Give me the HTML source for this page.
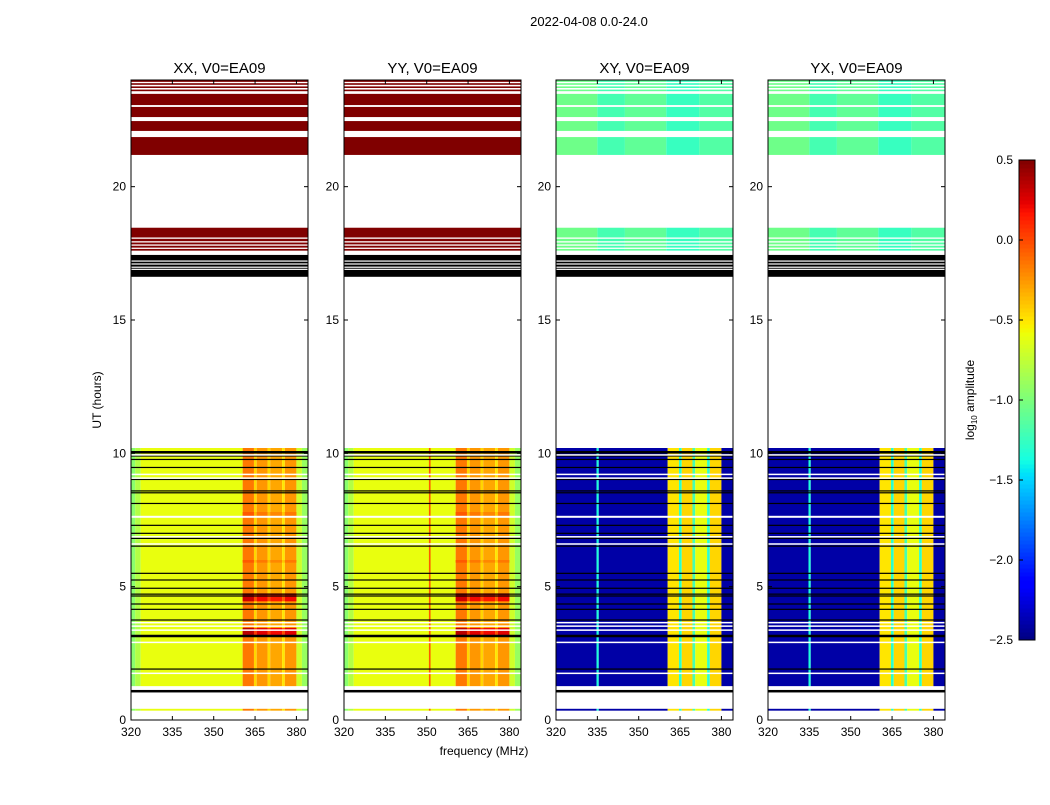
<!DOCTYPE html>
<html><head><meta charset="utf-8"><style>
html,body{margin:0;padding:0;background:#fff;}
svg text{font-family:"Liberation Sans","DejaVu Sans",sans-serif;}
</style></head><body>
<svg id="fig" width="1050" height="800" viewBox="0 0 1050 800" xmlns="http://www.w3.org/2000/svg"></svg>
<script>
// ---- data ----
const panelTitles = ["XX, V0=EA09","YY, V0=EA09","XY, V0=EA09","YX, V0=EA09"];
const panelKind = ["par","par","cross","cross"];
const xTicks = [320,335,350,365,380];
const yTicks = [0,5,10,15,20];
const cbTicks = [0.5,0.0,-0.5,-1.0,-1.5,-2.0,-2.5];
// frequency segments [fromMHz, toMHz, log10 amp]
const parLowProfile = [[320,321.5,-0.95],[321.5,323.5,-0.8],[323.5,360.5,-0.6],[360.5,364.6,-0.15],[364.6,365.6,-0.45],[365.6,369.5,-0.25],[369.5,370.5,-0.45],[370.5,374.8,-0.3],[374.8,375.8,-0.5],[375.8,380,-0.25],[380,382,-0.7],[382,384.5,-0.9]];
const crossLowProfile = [[320,334.7,-2.4],[334.7,335.5,-1.35],[335.5,360.5,-2.4],[360.5,364.6,-0.5],[364.6,365.6,-1.3],[365.6,369.5,-0.45],[369.5,370.5,-1.2],[370.5,374.8,-0.6],[374.8,375.8,-1.3],[375.8,380,-0.45],[380,384.5,-2.4]];
const parHighProfile = [[320,384.5,0.6]];
const crossHighProfile = [[320,335,-1.05],[335,345,-1.2],[345,360,-1.1],[360,372,-1.25],[372,384.5,-1.15]];
const yyExtraLine = [[350.8,351.4,-0.05]];
// time bands with data [fromHour, toHour]
const lowBands = [[0.35,0.42],[1.27,10.2]];
const highBands = [[17.6,18.46],[21.19,21.86],[22.09,22.46],[22.61,22.99],[23.06,23.48],[23.58,23.64],[23.7,23.76],[23.82,23.88],[23.93,23.99]];
// brighter time rows in the parallel hands: [from,to,add]
const brightRows = [[3.15,3.45,0.5],[4.45,4.75,0.45],[5.9,6.0,0.1],[7.6,7.8,0.1]];
// flagged rows: [hour, thickness px]
const blackLines = [[10.04,2.5],[9.9,1.2],[9.77,1.2],[9.47,1.2],[9.02,1.2],[8.59,1.2],[8.52,1.2],[8.12,1.2],[7.3,1.2],[7.0,1.2],[6.81,1.2],[6.52,1.2],[5.5,1.2],[5.25,1.2],[4.94,1.2],[4.72,1.2],[4.65,1.2],[4.35,1.2],[4.15,1.2],[3.75,1.2],[3.15,2.5],[1.91,1.2],[1.08,2.5]];
const whiteLines = [[9.94,1.5],[9.21,1.5],[9.07,1.5],[7.62,2],[6.87,1.5],[6.6,1.5],[3.65,1.5],[3.52,1.5],[3.37,1.5],[2.91,1.5],[1.75,1.5],[18.07,1.3],[17.93,1.3],[17.81,1.3],[17.69,1.3]];
const blackBand = [16.62,17.44];
const blackBandGaps = [[17.21,1.2],[17.1,1.2],[16.98,1.2],[16.9,1.2]];

// ---- layout ----
const svg = document.getElementById('fig');
const NS = 'http://www.w3.org/2000/svg';
const panelLeft = [131,344,556,768];
const PW = 177, TOP = 80, BOT = 720;
const fMin = 320, fMax = 384.2;
const vMin = -2.5, vMax = 0.5;
function el(tag, attrs, parent){const e=document.createElementNS(NS,tag);for(const k in attrs)e.setAttribute(k,attrs[k]);(parent||svg).appendChild(e);return e;}
function xScale(p,f){return panelLeft[p]+(f-fMin)/(fMax-fMin)*PW;}
function yScale(h){return BOT-(h/24)*(BOT-TOP);}
const JR=[[0,0],[0.35,0],[0.66,1],[0.89,1],[1,0.5]];
const JG=[[0,0],[0.125,0],[0.375,1],[0.64,1],[0.91,0],[1,0]];
const JB=[[0,0.5],[0.11,1],[0.34,1],[0.65,0],[1,0]];
function interp(seg,t){for(let i=1;i<seg.length;i++){if(t<=seg[i][0]){const a=seg[i-1],b=seg[i];return a[1]+(b[1]-a[1])*(t-a[0])/(b[0]-a[0]);}}return seg[seg.length-1][1];}
function jet(v){let t=(v-vMin)/(vMax-vMin);t=Math.max(0,Math.min(1,t));
 return `rgb(${Math.round(interp(JR,t)*255)},${Math.round(interp(JG,t)*255)},${Math.round(interp(JB,t)*255)})`;}

function drawProfile(g,p,prof,h0,h1,add){
 prof.forEach(s=>{const x0=xScale(p,s[0]),x1=xScale(p,s[1]);
  const r=el('rect',{x:x0,y:yScale(h1),width:Math.max(0.6,x1-x0),height:yScale(h0)-yScale(h1),fill:jet(s[2]+add)},g);
  
  });
}

const title = el('text',{x:589,y:26,'font-size':13,'text-anchor':'middle'});
title.textContent='2022-04-08 0.0-24.0';



for(let p=0;p<4;p++){
 const g=el('g',{});
 
 
 const cp=el('clipPath',{id:'cp'+p},g);el('rect',{x:panelLeft[p],y:TOP,width:PW,height:BOT-TOP},cp);
 const hg=el('g',{'clip-path':`url(#cp${p})`},g);
 const par=panelKind[p]==='par';
 lowBands.forEach(b=>{
  drawProfile(hg,p,par?parLowProfile:crossLowProfile,b[0],b[1],0);
  if(par){brightRows.forEach(r=>{if(r[0]>=b[0]&&r[1]<=b[1])drawProfile(hg,p,parLowProfile.filter(s=>s[0]>=360.5&&s[1]<=380),r[0],r[1],r[2]);});
   if(p===1)drawProfile(hg,p,yyExtraLine,b[0],b[1],0);}
 });
 highBands.forEach(b=>drawProfile(hg,p,par?parHighProfile:crossHighProfile,b[0],b[1],0));
 const bb=el('rect',{x:panelLeft[p],y:yScale(blackBand[1]),width:PW,height:yScale(blackBand[0])-yScale(blackBand[1]),fill:'#000'},hg);
 
 blackBandGaps.forEach(l=>el('rect',{x:panelLeft[p],y:yScale(l[0])-l[1]/2,width:PW,height:l[1],fill:'#fff'},hg));
 blackLines.forEach(l=>{const r=el('rect',{x:panelLeft[p],y:yScale(l[0])-l[1]/2,width:PW,height:l[1],fill:'#000'},hg);
  });
 whiteLines.forEach(l=>el('rect',{x:panelLeft[p],y:yScale(l[0])-l[1]/2,width:PW,height:l[1],fill:'#fff'},hg));
 el('rect',{x:panelLeft[p],y:TOP,width:PW,height:BOT-TOP,fill:'none',stroke:'#000','stroke-width':1},g);
 xTicks.forEach(t=>{const x=xScale(p,t);
  el('line',{x1:x,x2:x,y1:BOT,y2:BOT-4,stroke:'#000'},g);el('line',{x1:x,x2:x,y1:TOP,y2:TOP+4,stroke:'#000'},g);
  const tx=el('text',{x:x,y:BOT+16,'font-size':12,'text-anchor':'middle'},g);tx.textContent=t;
  });
 yTicks.forEach(t=>{const y=yScale(t);
  el('line',{x1:panelLeft[p],x2:panelLeft[p]+4,y1:y,y2:y,stroke:'#000'},g);el('line',{x1:panelLeft[p]+PW,x2:panelLeft[p]+PW-4,y1:y,y2:y,stroke:'#000'},g);
  const tx=el('text',{x:panelLeft[p]-5,y:y+4,'font-size':12,'text-anchor':'end'},g);tx.textContent=t;
  });
 const pt=el('text',{x:panelLeft[p]+PW/2,y:73,'font-size':15,'text-anchor':'middle'},g);pt.textContent=panelTitles[p];
 
}
const yl=el('text',{x:101,y:400,'font-size':12,'text-anchor':'middle',transform:'rotate(-90 101 400)'});yl.textContent='UT (hours)';

const xl=el('text',{x:484,y:755,'font-size':12,'text-anchor':'middle'});xl.textContent='frequency (MHz)';


const cb=el('g',{});
const CBX=1019,CBW=16,CBT=160,CBB=640;
function cbY(v){return CBB-(v-vMin)/(vMax-vMin)*(CBB-CBT);}
for(let i=0;i<120;i++){const v0=vMin+i*(vMax-vMin)/120,v1=vMin+(i+1)*(vMax-vMin)/120;
 el('rect',{x:CBX,y:cbY(v1),width:CBW,height:cbY(v0)-cbY(v1)+0.5,fill:jet((v0+v1)/2)},cb);}
el('rect',{x:CBX,y:CBT,width:CBW,height:CBB-CBT,fill:'none',stroke:'#000'},cb);
cbTicks.forEach(t=>{const y=cbY(t);el('line',{x1:CBX,x2:CBX+4,y1:y,y2:y,stroke:'#000'},cb);
 const tx=el('text',{x:1013,y:y+4,'font-size':12,'text-anchor':'end'},cb);tx.textContent=t.toFixed(1).replace('-','\u2212');
 });
const cl=el('text',{x:974,y:400,'font-size':12,'text-anchor':'middle',transform:'rotate(-90 974 400)'});
cl.innerHTML='log<tspan font-size="8" dy="3">10</tspan><tspan dy="-3"> amplitude</tspan>';

</script>
</body></html>
